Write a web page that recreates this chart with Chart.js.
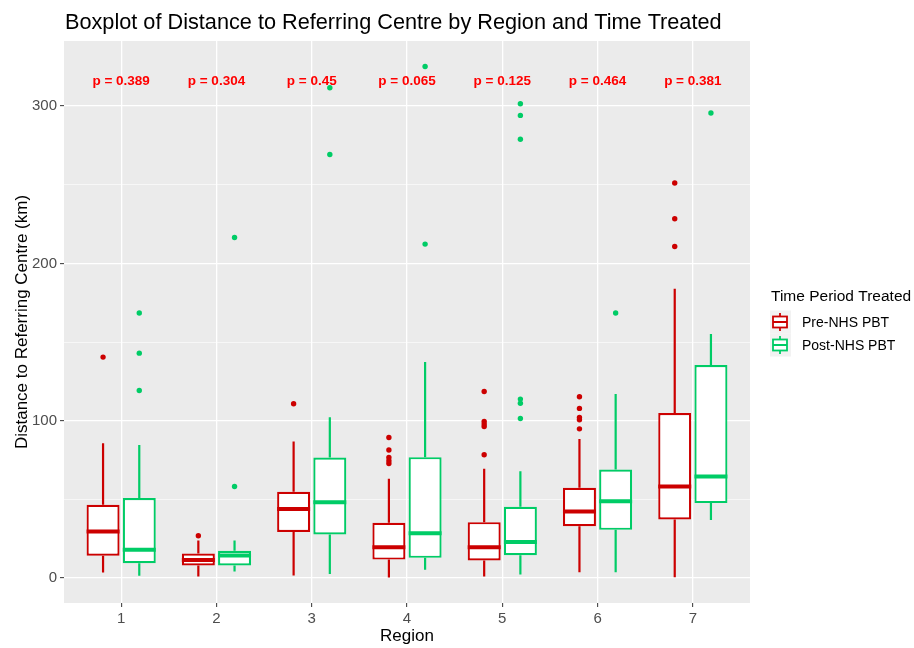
<!DOCTYPE html>
<html lang="en">
<head>
    <meta charset="UTF-8">
    <title>Boxplot of Distance to Referring Centre</title>
    <script src="https://cdn.jsdelivr.net/npm/chart.js"></script>
    <style>
        html, body {
            margin: 0;
            padding: 0;
            background: #ffffff;
        }
        #wrap {
            width: 914px;
            height: 648px;
        }
    </style>
</head>
<body>
    <div id="wrap"><canvas id="boxChart" width="914" height="648"></canvas></div>

    <script>
        // values (km)
        const regions = [1, 2, 3, 4, 5, 6, 7];
        const pValues = ['p = 0.389', 'p = 0.304', 'p = 0.45', 'p = 0.065', 'p = 0.125', 'p = 0.464', 'p = 0.381'];

        const preLow  = [3.6, 1.0, 1.7, 0.4, 1.0, 3.8, 0.6];
        const preQ1   = [14.2, 8.0, 29.4, 11.8, 11.2, 33.0, 37.3];
        const preMed  = [29.6, 11.6, 44.0, 19.7, 19.7, 42.3, 58.2];
        const preQ3   = [46.6, 15.6, 54.9, 35.2, 35.6, 57.4, 104.9];
        const preHigh = [85.8, 23.9, 86.8, 63.1, 69.5, 88.4, 183.9];
        const preOutliers = [
            [140.5],
            [26.9],
            [110.8],
            [89.4, 81.4, 76.7, 74.6, 72.9],
            [118.6, 99.6, 97.9, 96.4, 78.4],
            [115.3, 107.9, 102.1, 100.6, 94.9],
            [251.1, 228.4, 210.8]
        ];

        const postLow  = [1.5, 4.2, 2.7, 5.3, 2.3, 3.8, 37.0];
        const postQ1   = [9.5, 8.0, 27.7, 12.9, 14.6, 30.7, 47.7];
        const postMed  = [18.0, 14.4, 48.3, 28.6, 22.9, 48.9, 64.6];
        const postQ3   = [50.9, 17.4, 76.7, 76.9, 45.3, 69.0, 135.4];
        const postHigh = [84.7, 23.9, 102.3, 137.3, 68.0, 117.0, 155.1];
        const postOutliers = [
            [168.5, 143.0, 119.3],
            [216.5, 58.2],
            [311.7, 269.3],
            [325.2, 212.3],
            [301.5, 294.1, 279.0, 113.8, 111.2, 101.5],
            [168.5],
            [295.6]
        ];

        const PRE_COLOR = '#CC0000';
        const POST_COLOR = '#00CC66';
        const FONT = "'Liberation Sans', Arial, sans-serif";
        const DODGE = 0.19;
        const HALF_BOX = 0.173;
        const P_LABEL_Y = 315.5;

        Chart.defaults.font.family = FONT;

        function boxData(q1, q3, shift) {
            return regions.map((r, i) => ({x: r + shift, y: [q1[i], q3[i]]}));
        }

        function whiskerData(low, q1, q3, high, shift) {
            const pts = [];
            regions.forEach((r, i) => {
                pts.push({x: r + shift, y: low[i]}, {x: r + shift, y: q1[i]}, {x: r + shift, y: null});
                pts.push({x: r + shift, y: q3[i]}, {x: r + shift, y: high[i]}, {x: r + shift, y: null});
            });
            return pts;
        }

        function medianData(med, shift) {
            const pts = [];
            regions.forEach((r, i) => {
                pts.push({x: r + shift - HALF_BOX, y: med[i]}, {x: r + shift + HALF_BOX, y: med[i]}, {x: r + shift, y: null});
            });
            return pts;
        }

        function outlierData(outs, shift) {
            const pts = [];
            regions.forEach((r, i) => {
                outs[i].forEach(v => pts.push({x: r + shift, y: v}));
            });
            return pts;
        }

        function lineSet(data, color, width, order) {
            return {
                type: 'line',
                data: data,
                borderColor: color,
                borderWidth: width,
                pointRadius: 0,
                spanGaps: false,
                fill: false,
                order: order
            };
        }

        function boxSet(q1, q3, shift, color) {
            return {
                type: 'bar',
                data: boxData(q1, q3, shift),
                backgroundColor: '#ffffff',
                borderColor: color,
                borderWidth: 2.2,
                borderSkipped: false,
                inflateAmount: 0,
                grouped: false,
                barThickness: 33,
                order: 3
            };
        }

        function pointSet(outs, shift, color) {
            return {
                type: 'scatter',
                data: outlierData(outs, shift),
                backgroundColor: color,
                borderWidth: 0,
                pointRadius: 2.7,
                order: 1
            };
        }

        // grey panel, title, p-values and legend
        const decorations = {
            id: 'decorations',
            beforeDraw(chart) {
                const {ctx, chartArea} = chart;
                ctx.save();
                ctx.fillStyle = '#EBEBEB';
                ctx.fillRect(chartArea.left, chartArea.top, chartArea.right - chartArea.left, chartArea.bottom - chartArea.top);
                ctx.restore();
            },
            afterDraw(chart) {
                const ctx = chart.ctx;
                const xs = chart.scales.x;
                const ys = chart.scales.y;
                ctx.save();

                ctx.fillStyle = '#000000';
                ctx.font = '21.7px ' + FONT;
                ctx.textAlign = 'left';
                ctx.textBaseline = 'alphabetic';
                ctx.fillText('Boxplot of Distance to Referring Centre by Region and Time Treated', 65, 29);

                ctx.fillStyle = '#FF0000';
                ctx.font = 'bold 13.5px ' + FONT;
                ctx.textAlign = 'center';
                ctx.textBaseline = 'middle';
                regions.forEach((r, i) => {
                    ctx.fillText(pValues[i], xs.getPixelForValue(r), ys.getPixelForValue(P_LABEL_Y));
                });

                // legend
                ctx.textAlign = 'left';
                ctx.fillStyle = '#000000';
                ctx.font = '15.5px ' + FONT;
                ctx.fillText('Time Period Treated', 771, 297);

                const keys = [
                    {label: 'Pre-NHS PBT', color: PRE_COLOR, y: 322},
                    {label: 'Post-NHS PBT', color: POST_COLOR, y: 345}
                ];
                keys.forEach(k => {
                    ctx.fillStyle = '#F2F2F2';
                    ctx.fillRect(770, k.y - 11.5, 21, 23);
                    ctx.strokeStyle = k.color;
                    ctx.lineWidth = 1.8;
                    ctx.fillStyle = '#ffffff';
                    ctx.fillRect(773, k.y - 5.5, 14, 11);
                    ctx.strokeRect(773, k.y - 5.5, 14, 11);
                    ctx.beginPath();
                    ctx.moveTo(780, k.y - 9);
                    ctx.lineTo(780, k.y - 5.5);
                    ctx.moveTo(780, k.y + 5.5);
                    ctx.lineTo(780, k.y + 9);
                    ctx.moveTo(773, k.y);
                    ctx.lineTo(787, k.y);
                    ctx.stroke();
                    ctx.fillStyle = '#000000';
                    ctx.font = '14px ' + FONT;
                    ctx.fillText(k.label, 802, k.y + 1);
                });
                ctx.restore();
            }
        };

        const ctx = document.getElementById('boxChart').getContext('2d');
        const boxChart = new Chart(ctx, {
            type: 'bar',
            data: {
                datasets: [
                    lineSet(whiskerData(preLow, preQ1, preQ3, preHigh, -DODGE), PRE_COLOR, 2.2, 4),
                    lineSet(whiskerData(postLow, postQ1, postQ3, postHigh, DODGE), POST_COLOR, 2.2, 4),
                    boxSet(preQ1, preQ3, -DODGE, PRE_COLOR),
                    boxSet(postQ1, postQ3, DODGE, POST_COLOR),
                    lineSet(medianData(preMed, -DODGE), PRE_COLOR, 4, 2),
                    lineSet(medianData(postMed, DODGE), POST_COLOR, 4, 2),
                    pointSet(preOutliers, -DODGE, PRE_COLOR),
                    pointSet(postOutliers, DODGE, POST_COLOR)
                ]
            },
            options: {
                responsive: false,
                animation: false,
                events: [],
                layout: {
                    padding: {top: 41, right: 164, left: 0, bottom: 0}
                },
                plugins: {
                    legend: {display: false},
                    tooltip: {enabled: false},
                    title: {display: false}
                },
                scales: {
                    x: {
                        type: 'linear',
                        min: 0.4,
                        max: 7.6,
                        offset: false,
                        afterFit: scale => { scale.height = 45; },
                        ticks: {
                            stepSize: 1,
                            includeBounds: false,
                            color: '#4D4D4D',
                            padding: 3,
                            font: {size: 15}
                        },
                        grid: {
                            offset: false,
                            color: '#ffffff',
                            lineWidth: 1.3,
                            tickColor: '#333333',
                            tickWidth: 1,
                            tickLength: 4
                        },
                        border: {display: false},
                        title: {
                            display: true,
                            text: 'Region',
                            color: '#000000',
                            font: {size: 17},
                            padding: {top: 0, bottom: 1}
                        }
                    },
                    y: {
                        type: 'linear',
                        min: -15.8,
                        max: 341.4,
                        beginAtZero: false,
                        afterFit: scale => { scale.width = 64; },
                        ticks: {
                            stepSize: 50,
                            includeBounds: false,
                            color: '#4D4D4D',
                            padding: 3,
                            font: {size: 15},
                            callback: v => (v % 100 === 0 ? String(v) : '')
                        },
                        grid: {
                            color: '#ffffff',
                            lineWidth: c => (c.tick && c.tick.value % 100 === 0 ? 1.3 : 0.6),
                            tickColor: c => (c.tick && c.tick.value % 100 === 0 ? '#333333' : 'rgba(0,0,0,0)'),
                            tickWidth: 1,
                            tickLength: 4
                        },
                        border: {display: false},
                        title: {
                            display: true,
                            text: 'Distance to Referring Centre (km)',
                            color: '#000000',
                            font: {size: 17},
                            padding: {top: 12, bottom: 0}
                        }
                    }
                }
            },
            plugins: [decorations]
        });
    </script>
</body>
</html>
